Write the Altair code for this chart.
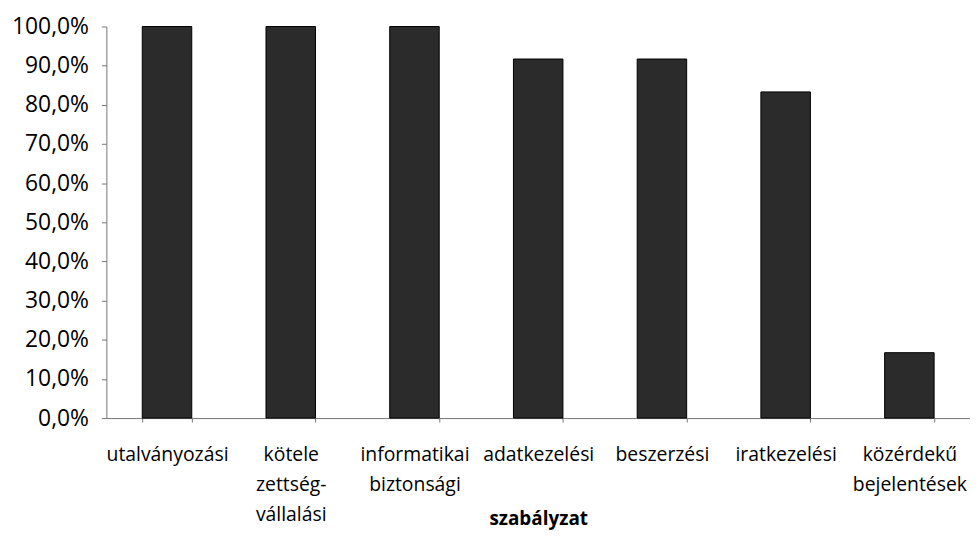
import altair as alt
import pandas as pd

categories = ["utalványozási", "kötele|zettség-|vállalási", "informatikai|biztonsági",
              "adatkezelési", "beszerzési", "iratkezelési", "közérdekű|bejelentések"]
values = [1.0, 1.0, 1.0, 0.917, 0.917, 0.833, 0.167]

df = pd.DataFrame({"cat": categories, "val": values})

FONT = "Open Sans"

chart = alt.Chart(df).mark_bar(color="#2b2b2b", stroke="#000000", strokeWidth=1).encode(
    x=alt.X("cat:N", sort=categories, title="szabályzat",
            scale=alt.Scale(paddingInner=0.6, paddingOuter=0.29),
            axis=alt.Axis(labelAngle=0, labelExpr="split(datum.label, '|')",
                          labelFont=FONT, labelFontSize=19.5, labelColor="#000",
                          labelLineHeight=30, labelPadding=24, labelBaseline="top",
                          labelOverlap=False, labelBound=False,
                          tickBand="extent", ticks=True, tickColor="#777", tickSize=4,
                          domainColor="#777", titleFont=FONT, titleFontSize=19,
                          titleFontWeight="bold", titleColor="#000",
                          titleY=107, titleBaseline="alphabetic")),
    y=alt.Y("val:Q", title=None,
            scale=alt.Scale(domain=[0, 1]),
            axis=alt.Axis(values=[i / 10 for i in range(11)],
                          labelExpr="replace(format(datum.value, '.1%'), '.', ',')",
                          labelFont=FONT, labelFontSize=23, labelColor="#000",
                          labelPadding=13, grid=False, tickColor="#777", tickSize=5,
                          domainColor="#777")),
).properties(
    width=869, height=394,
    autosize=alt.AutoSizeParams(type="none"),
    padding={"left": 99, "top": 17, "right": 0, "bottom": 113},
).configure_view(stroke=None)

chart.save("out.html", embed_options={"renderer": "svg", "actions": False})
